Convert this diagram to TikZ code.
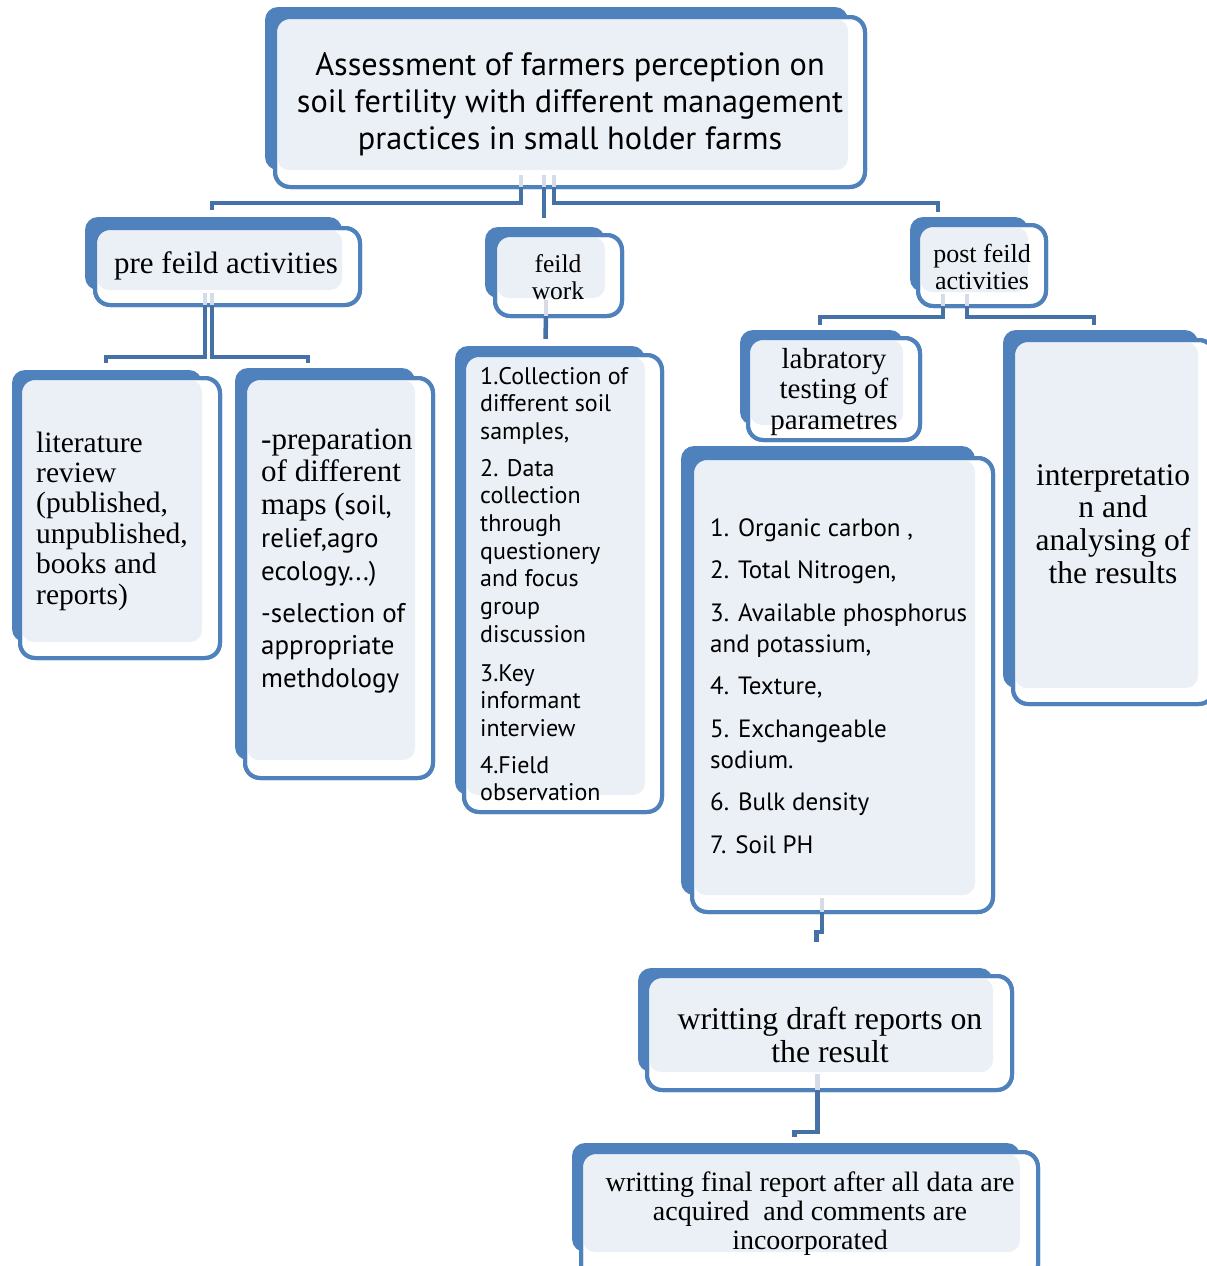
\documentclass[tikz,border=0pt]{standalone}
\usepackage{fontspec}
\setmainfont{Liberation Serif}
\newfontfamily\candfont{PT Sans}
\usetikzlibrary{fit}
\definecolor{bk}{HTML}{4F81BD}
\definecolor{lt}{HTML}{EBF0F7}
\definecolor{cn}{HTML}{4571A6}
\definecolor{stubc}{HTML}{D5DCE8}
\newcommand\mkbox[9]{%
  \fill[bk, rounded corners=13pt] (#2,#3) rectangle (#4,#5);
  \draw[bk, line width=4pt, fill=white, rounded corners=15pt] (#6,#7) rectangle (#8,#9);
  \fill[lt, rounded corners=12pt] (#6+2,#7+2) rectangle (#4,#5);
  \draw[bk, line width=4pt, rounded corners=15pt] (#6,#7) rectangle (#8,#9);
  \node[fit={(#6,#7) (#8,#9)}, inner sep=0pt] (#1) {};
}
\newcommand\sfz[2]{\fontsize{#1}{#2}\selectfont\candfont}
\newcommand\rmz[2]{\fontsize{#1}{#2}\selectfont\rmfamily}
\begin{document}
\begin{tikzpicture}[x=1pt,y=-1pt,
  conn/.style={draw=cn, line width=4.5pt},
  stub/.style={draw=stubc, line width=4.5pt},
  txt/.style={inner sep=0pt, text=black}]
\useasboundingbox (0,0) rectangle (1207,1266);

\mkbox{A}{265}{7}{848}{170}{275}{17}{865}{187}
\mkbox{B}{85}{217}{342}{290}{95}{228}{360}{305}
\mkbox{C}{12}{370}{202}{642}{20}{378}{220}{658}
\mkbox{D}{235}{368}{415}{760}{245}{378}{433}{778}
\mkbox{E}{485}{227}{605}{298}{495}{235}{622}{316}
\mkbox{F}{455}{346}{645}{795}{464}{355}{662}{812}
\mkbox{G}{910}{217}{1028}{292}{918}{225}{1046}{306}
\mkbox{H}{740}{330}{903}{425}{748}{338}{920}{440}
\mkbox{I}{681}{446}{975}{895}{692}{458}{993}{912}
\mkbox{J}{1003}{330}{1198}{688}{1013}{340}{1214}{704}
\mkbox{K}{638}{968}{993}{1072}{647}{976}{1012}{1090}
\mkbox{L}{572}{1143}{1020}{1252}{581}{1152}{1038}{1280}

% faint stubs inside parent boxes
\foreach \dx in {-49,-26,-16} \draw[stub] ([xshift=\dx pt,yshift=12pt]A.south) -- ([xshift=\dx pt]A.south);
\foreach \dx in {-22.5,-15.5} \draw[stub] ([xshift=\dx pt,yshift=12pt]B.south) -- ([xshift=\dx pt]B.south);
\draw[stub] ([xshift=-12.5pt,yshift=16pt]E.south) -- ([xshift=-12.5pt]E.south);
\foreach \dx in {-39,-15} \draw[stub] ([xshift=\dx pt,yshift=12pt]G.south) -- ([xshift=\dx pt]G.south);
\draw[stub] ([xshift=-20.5pt,yshift=14pt]I.south) -- ([xshift=-20.5pt]I.south);
\draw[stub] ([xshift=-12pt,yshift=16pt]K.south) -- ([xshift=-12pt]K.south);

% connectors
\draw[conn] ([xshift=-49pt]A.south) -- ++(0,16) -| ([xshift=-15.5pt,yshift=18pt]B.north);
\draw[conn] ([xshift=-26pt]A.south) -- ([xshift=-14.5pt,yshift=17pt]E.north);
\draw[conn] ([xshift=-16pt]A.south) -- ++(0,16) -| ([xshift=-44pt,yshift=13pt]G.north);
\draw[conn] ([xshift=-22.5pt]B.south) -- ++(0,52) -| ([xshift=-14pt,yshift=15pt]C.north);
\draw[conn] ([xshift=-15.5pt]B.south) -- ++(0,52) -| ([xshift=-31pt,yshift=15pt]D.north);
\draw[conn] ([xshift=-12.5pt]E.south) -- ([xshift=-17.5pt,yshift=16pt]F.north);
\draw[conn] ([xshift=-39pt]G.south) -- ++(0,11) -| ([xshift=-14pt,yshift=13pt]H.north);
\draw[conn] ([xshift=-15pt]G.south) -- ++(0,11) -| ([xshift=-19.5pt,yshift=15pt]J.north);
\draw[conn] ([xshift=-20.5pt]I.south) -- ++(0,20) -| ([xshift=-13pt,yshift=34pt]K.north);
\draw[conn] ([xshift=-12pt]K.south) -- ++(0,42) -| ([xshift=-15pt,yshift=15pt]L.north);

% texts
\node[txt, align=center, font=\sfz{32.3}{37}] (At) at (570,104)
  {Assessment of farmers perception on\\soil fertility with different management\\practices in small holder farms};
\node[txt, font=\rmz{31}{33}] (Bt) at (226,266) {pre feild activities};
\node[txt, align=center, font=\rmz{25.5}{27}] (Et) at (558,277) {feild\\work};
\node[txt, align=center, font=\rmz{26}{27}] (Gt) at (982,267) {post feild\\activities};
\node[txt, align=left, anchor=west, font=\rmz{29.5}{30.4}] (Ct) at (36,521)
  {literature\\review\\(published,\\unpublished,\\books and\\reports)};
\node[txt, align=left, anchor=west, font=\rmz{31}{32.8}] (Dt) at (261,561)
  {-preparation\\of different\\maps ({\sfz{27}{32.8}soil,}\\{\sfz{27}{32.8}relief,agro}\\{\sfz{27}{32.8}ecology...)}\\[9pt]{\sfz{27}{31}-selection of}\\{\sfz{27}{31}appropriate}\\{\sfz{27}{31}methdology}};
\node[txt, align=left, anchor=west, font=\sfz{24}{27.7}] (Ft) at (480,584)
  {1.Collection of\\different soil\\samples,\\[9pt]2. Data\\collection\\through\\questionery\\and focus\\group\\discussion\\[11pt]3.Key\\informant\\interview\\[9pt]4.Field\\observation};
\node[txt, align=center, font=\rmz{29}{30.5}] (Ht) at (834,392) {labratory\\testing of\\parametres};
\node[txt, align=left, anchor=west, font=\sfz{25}{31.5}] (It) at (710,686)
  {1. Organic carbon ,\\[10.5pt]2. Total Nitrogen,\\[11pt]3. Available phosphorus\\and potassium,\\[10.5pt]4. Texture,\\[11pt]5. Exchangeable\\sodium.\\[10.5pt]6. Bulk density\\[11pt]7. Soil PH};
\node[txt, align=center, font=\rmz{31.5}{32.7}] (Jt) at (1113,524) {interpretatio\\n and\\analysing of\\the results};
\node[txt, align=center, font=\rmz{31.8}{33}] (Kt) at (830,1035) {writting draft reports on\\the result};
\node[txt, align=center, font=\rmz{28}{29}] (Lt) at (810,1214) {writting final report after all data are\\acquired~ and comments are\\incoorporated};
\end{tikzpicture}
\end{document}
